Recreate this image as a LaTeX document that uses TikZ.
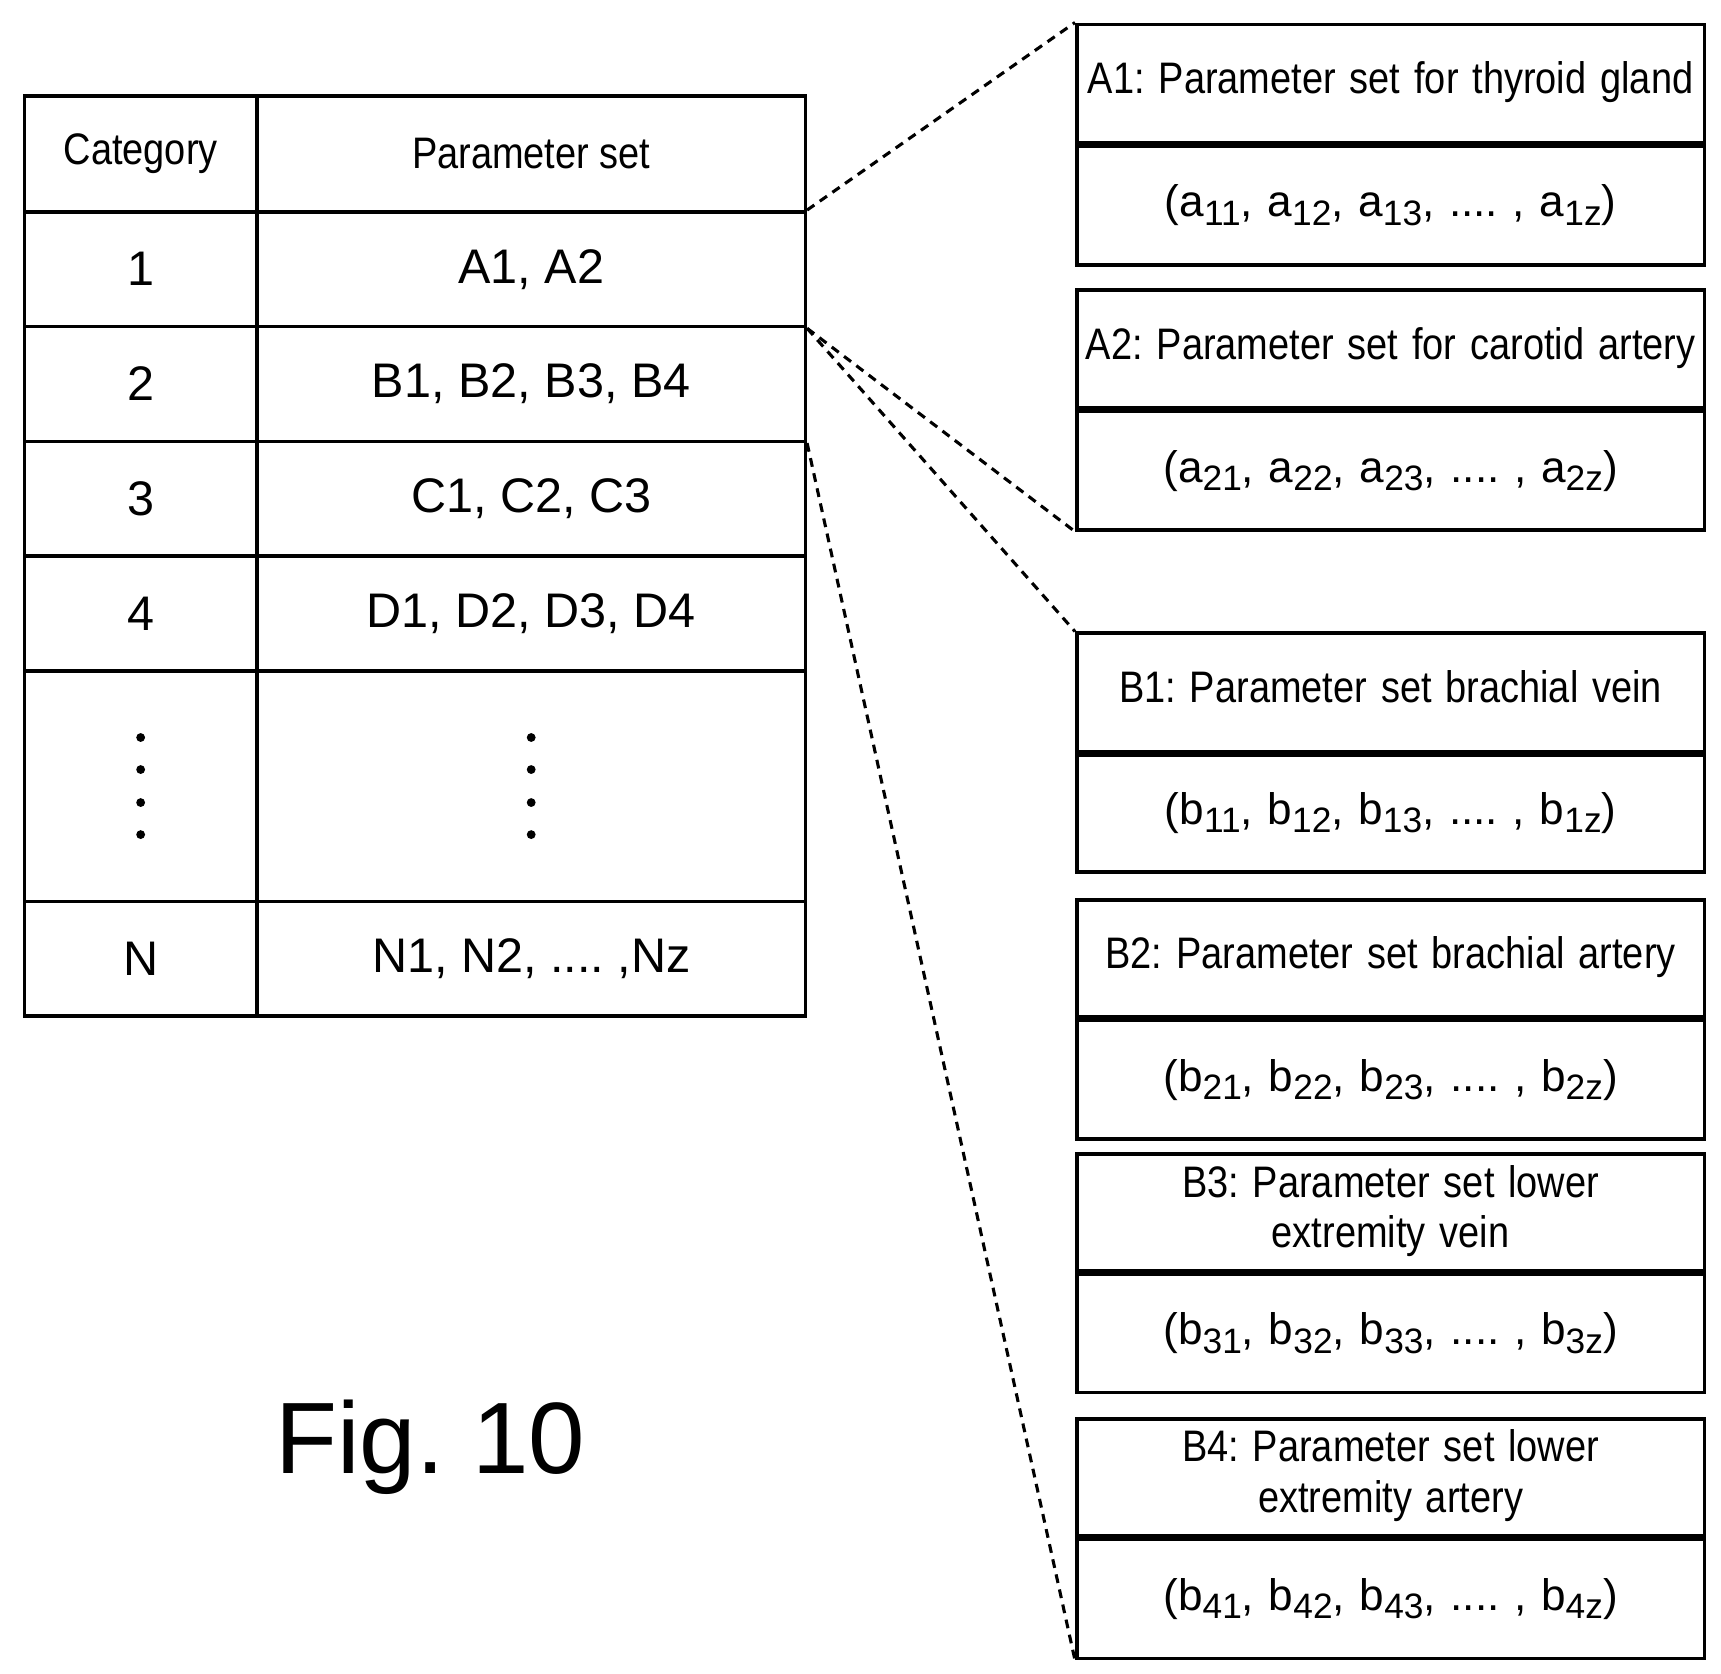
\documentclass[tikz,border=0pt]{standalone}
\usepackage{fontspec}
\setmainfont{Liberation Sans}
\usetikzlibrary{calc}
\newcommand\subx[1]{\raisebox{-0.35ex}{\fontsize{16}{16}\selectfont #1}}
\newcommand\nar[1]{\scalebox{0.86}[1]{#1}}
\frenchspacing
\begin{document}
\begin{tikzpicture}[x=0.5pt,y=-0.5pt,
  cell/.style={draw,line width=1.6pt,inner sep=0pt,align=center,font=\fontsize{22}{24}\selectfont},
  dashline/.style={dash pattern=on 4pt off 3pt,line width=1.4pt}]
\useasboundingbox (0,0) rectangle (1560,1517);
% table
\newcommand\tc[5]{\node[cell,minimum width=#3*0.5pt,minimum height=#4*0.5pt] (#1) at (#2) {#5};}
\tc{h1}{127.5,139.5}{211}{105}{\nar{\fontsize{20}{22}\selectfont Category}}
\tc{h2}{481.5,139.5}{497}{105}{\nar{\fontsize{20}{22}\selectfont Parameter set}}
\tc{r1a}{127.5,244}{211}{104}{1}
\tc{r1b}{481.5,244}{497}{104}{A1, A2}
\tc{r2a}{127.5,348}{211}{104}{2}
\tc{r2b}{481.5,348}{497}{104}{B1, B2, B3, B4}
\tc{r3a}{127.5,452}{211}{104}{3}
\tc{r3b}{481.5,452}{497}{104}{C1, C2, C3}
\tc{r4a}{127.5,556}{211}{104}{4}
\tc{r4b}{481.5,556}{497}{104}{D1, D2, D3, D4}
\tc{r5a}{127.5,712.5}{211}{209}{}
\tc{r5b}{481.5,712.5}{497}{209}{}
\tc{r6a}{127.5,869}{211}{104}{N}
\tc{r6b}{481.5,869}{497}{104}{N1, N2, .... ,Nz}
\foreach \n in {r5a,r5b}{\foreach \k in {-0.5,-0.17,0.17,0.5}{\fill ($(\n.center)+(0,\k*88)$) circle (4);}}
% right boxes
\newcommand\bx[6]{\node[cell,minimum width=569*0.5pt,text width=560*0.5pt,minimum height=#3*0.5pt] (#1t) at (1260.5,#2) {\nar{\fontsize{20}{23}\selectfont\begin{tabular}{@{}c@{}}#5\end{tabular}}};
 \node[cell,minimum width=569*0.5pt,text width=560*0.5pt,minimum height=#4*0.5pt,anchor=north,font=\fontsize{20}{22}\selectfont] (#1b) at (#1t.south) {#6};}
\bx{A1}{75.5}{107}{108}{A1: Parameter set for thyroid gland}{(a\subx{11}, a\subx{12}, a\subx{13}, .... , a\subx{1z})}
\bx{A2}{316.5}{107}{107}{A2: Parameter set for carotid artery}{(a\subx{21}, a\subx{22}, a\subx{23}, .... , a\subx{2z})}
\bx{B1}{627.5}{107}{106}{B1: Parameter set brachial vein}{(b\subx{11}, b\subx{12}, b\subx{13}, .... , b\subx{1z})}
\bx{B2}{869}{106}{107}{B2: Parameter set brachial artery}{(b\subx{21}, b\subx{22}, b\subx{23}, .... , b\subx{2z})}
\bx{B3}{1099}{106}{107}{B3: Parameter set lower\\extremity vein}{(b\subx{31}, b\subx{32}, b\subx{33}, .... , b\subx{3z})}
\bx{B4}{1339}{106}{108}{B4: Parameter set lower\\extremity artery}{(b\subx{41}, b\subx{42}, b\subx{43}, .... , b\subx{4z})}
% dashed connectors
\draw[dashline] (r1b.north east) -- (A1t.north west);
\draw[dashline] (r1b.south east) -- (A2b.south west);
\draw[dashline] (r1b.south east) -- (B1t.north west);
\draw[dashline] (r2b.south east) -- (B4b.south west);
\node[font=\fontsize{46}{50}\selectfont] (fig) at (390,1312) {Fig. 10};
\end{tikzpicture}
\end{document}
